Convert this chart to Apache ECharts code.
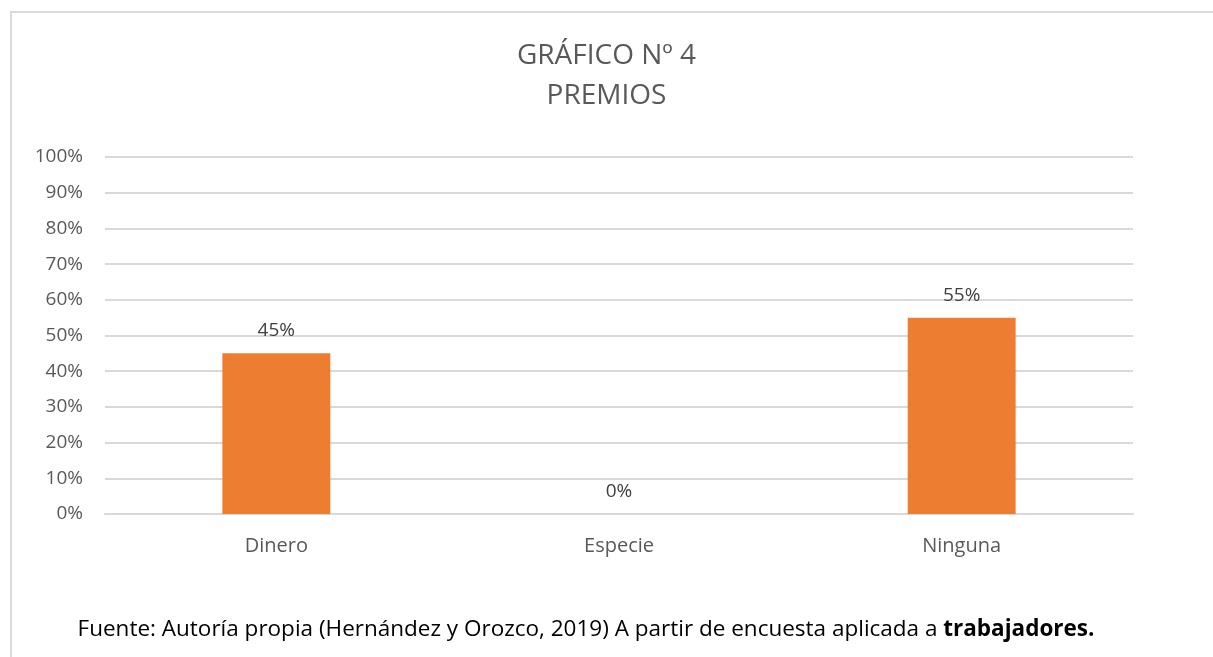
<!DOCTYPE html>
<html>
<head>
    <meta charset="utf-8">
    <title>Premios</title>
    <script src="https://cdn.jsdelivr.net/npm/echarts@6/dist/echarts.min.js"></script>
</head>
<body style="margin:0;background:#fff">

<style>
	#chart {
		width: 1213px;
		height: 657px;
	}
</style>

    <div id="chart"></div>

    <script type="text/javascript">
// datos del gráfico
var categorias = ['Dinero', 'Especie', 'Ninguna'];
var porcentajes = [45, 0, 55];
var ticksY = [0, 10, 20, 30, 40, 50, 60, 70, 80, 90, 100];

var fuente = 'Open Sans';

var chart = echarts.init(document.getElementById('chart'));

var option = {
	animation: false,
	title: {
		text: 'GRÁFICO Nº 4\nPREMIOS',
		left: 'center',
		top: 31,
		textStyle: {
			fontFamily: fuente,
			fontWeight: 'normal',
			fontSize: 28,
			lineHeight: 40,
			color: '#595959'
		}
	},
	grid: {
		left: 105,
		right: 80,
		top: 157,
		bottom: 143
	},
	xAxis: {
		type: 'category',
		data: categorias,
		axisLine: { lineStyle: { color: '#d9d9d9', width: 2 } },
		axisTick: { show: false },
		axisLabel: {
			margin: 22,
			fontFamily: fuente,
			fontSize: 20,
			color: '#595959'
		}
	},
	yAxis: {
		type: 'value',
		min: ticksY[0],
		max: ticksY[ticksY.length - 1],
		interval: 10,
		axisLine: { show: false },
		axisTick: { show: false },
		splitLine: { lineStyle: { color: '#d9d9d9', width: 2 } },
		axisLabel: {
			margin: 22,
			fontFamily: fuente,
			fontSize: 19,
			color: '#595959',
			formatter: '{value}%'
		}
	},
	series: [{
		type: 'bar',
		data: porcentajes,
		barWidth: '31.5%',
		itemStyle: { color: '#ed7d31' },
		label: {
			show: true,
			position: 'top',
			distance: 13,
			fontFamily: fuente,
			fontSize: 19,
			color: '#404040',
			formatter: '{c}%'
		}
	}],
	graphic: [
		{
			type: 'rect',
			shape: { x: 11, y: 12, width: 1230, height: 680 },
			style: { fill: 'none', stroke: '#d9d9d9', lineWidth: 2 },
			silent: true
		},
		{
			type: 'text',
			x: 586,
			y: 630,
			style: {
				text: '{n|Fuente: Autoría propia (Hernández y Orozco, 2019) A partir de encuesta aplicada a }{b|trabajadores.}',
				align: 'center',
				verticalAlign: 'middle',
				rich: {
					n: { fontFamily: fuente, fontSize: 22.5, color: '#000' },
					b: { fontFamily: fuente, fontSize: 22.5, fontWeight: 'bold', color: '#000' }
				}
			}
		}
	]
};

chart.setOption(option);
    </script>
</body>
</html>
